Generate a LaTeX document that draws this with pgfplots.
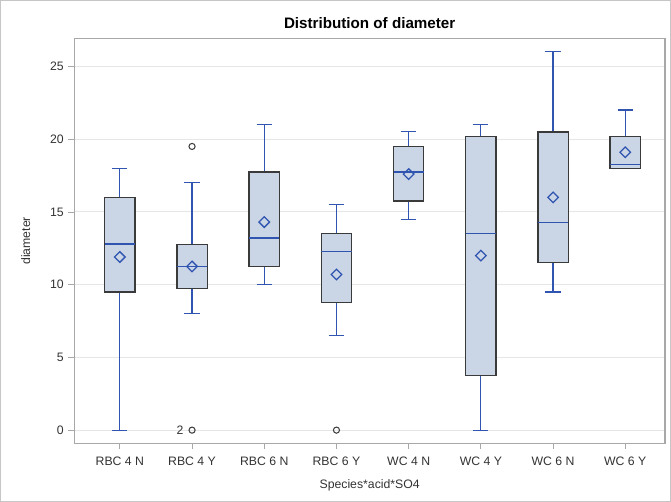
\documentclass[border=0pt]{standalone}
\usepackage{pgfplots}
\pgfplotsset{compat=1.18}
\usepgfplotslibrary{statistics}
\usepackage{fontspec}
\setmainfont{Liberation Sans}
\definecolor{boxfill}{HTML}{CAD5E5}
\definecolor{boxedge}{HTML}{3A3A3A}
\definecolor{bpblue}{HTML}{2F55B0}
\definecolor{gridc}{HTML}{E6E6E6}
\definecolor{framec}{HTML}{A8A8A8}
\definecolor{txt}{HTML}{333333}
\begin{document}
\begin{tikzpicture}
\begin{axis}[
  scale only axis,
  width=443.25pt, height=303.75pt,
  xmin=-0.63, xmax=7.55,
  ymin=-0.9, ymax=26.92,
  xtick={0,...,7},
  xticklabels={RBC 4 N,RBC 4 Y,RBC 6 N,RBC 6 Y,WC 4 N,WC 4 Y,WC 6 N,WC 6 Y},
  ytick={0,5,...,25},
  ymajorgrids,
  grid style={gridc, line width=0.8pt},
  axis line style={framec, line width=0.8pt},
  tick align=outside,
  tick pos=left,
  major tick length=4.5pt,
  tick style={framec, line width=0.6pt},
  ticklabel style={font=\fontsize{9.2}{10}\selectfont, text=txt},
  xticklabel style={yshift=-2.5pt},
  /pgf/number format/assume math mode=true,
  xlabel={Species*acid*SO4},
  ylabel={diameter},
  label style={font=\fontsize{9.2}{10}\selectfont, text=txt},
  xlabel style={yshift=-3.5pt},
  ylabel style={yshift=8pt},
  title={Distribution of diameter},
  title style={font=\bfseries\fontsize{11.4}{13}\selectfont, yshift=-2pt},
  clip=false,
  boxplot/draw direction=y,
  boxplot/box extend=0.42,
  boxplot/whisker extend=0.21,
  boxplot/every box/.style={draw=boxedge, fill=boxfill, line width=0.95pt},
  boxplot/every whisker/.style={draw=bpblue, line width=0.9pt},
  boxplot/every median/.style={draw=bpblue, line width=0.95pt},
]
\draw[gray!45, line width=0.8pt] (rel axis cs:-0.125,-0.143) rectangle (rel axis cs:1.0093,1.0938);
% RBC 4 N
\addplot[boxplot prepared={draw position=0, lower whisker=0, lower quartile=9.5, median=12.8, upper quartile=16, upper whisker=18}] coordinates {};
% RBC 4 Y
\addplot[boxplot prepared={draw position=1, lower whisker=8, lower quartile=9.75, median=11.25, upper quartile=12.75, upper whisker=17}] coordinates {};
% RBC 6 N
\addplot[boxplot prepared={draw position=2, lower whisker=10, lower quartile=11.25, median=13.2, upper quartile=17.75, upper whisker=21}] coordinates {};
% RBC 6 Y
\addplot[boxplot prepared={draw position=3, lower whisker=6.5, lower quartile=8.75, median=12.3, upper quartile=13.5, upper whisker=15.5}] coordinates {};
% WC 4 N
\addplot[boxplot prepared={draw position=4, lower whisker=14.5, lower quartile=15.75, median=17.75, upper quartile=19.5, upper whisker=20.5}] coordinates {};
% WC 4 Y
\addplot[boxplot prepared={draw position=5, lower whisker=0, lower quartile=3.78, median=13.5, upper quartile=20.2, upper whisker=21}] coordinates {};
% WC 6 N
\addplot[boxplot prepared={draw position=6, lower whisker=9.5, lower quartile=11.5, median=14.25, upper quartile=20.5, upper whisker=26}] coordinates {};
% WC 6 Y
\addplot[boxplot prepared={draw position=7, lower whisker=18, lower quartile=18, median=18.25, upper quartile=20.2, upper whisker=22}] coordinates {};
% means
\addplot[only marks, mark=square, mark size=2.8pt, mark options={rotate=45, draw=bpblue, line width=0.95pt, fill=none}]
  coordinates {(0,11.9) (1,11.25) (2,14.3) (3,10.7) (4,17.6) (5,12.0) (6,16.0) (7,19.1)};
% outliers
\addplot[only marks, mark=o, mark size=2.3pt, mark options={draw=black!75, line width=0.8pt}]
  coordinates {(1,19.5) (1,0) (3,0)};
\node[font=\fontsize{9.2}{10}\selectfont, text=txt, anchor=east] at ([xshift=-3pt]axis cs:1,0) {2};
\end{axis}
\end{tikzpicture}
\end{document}
